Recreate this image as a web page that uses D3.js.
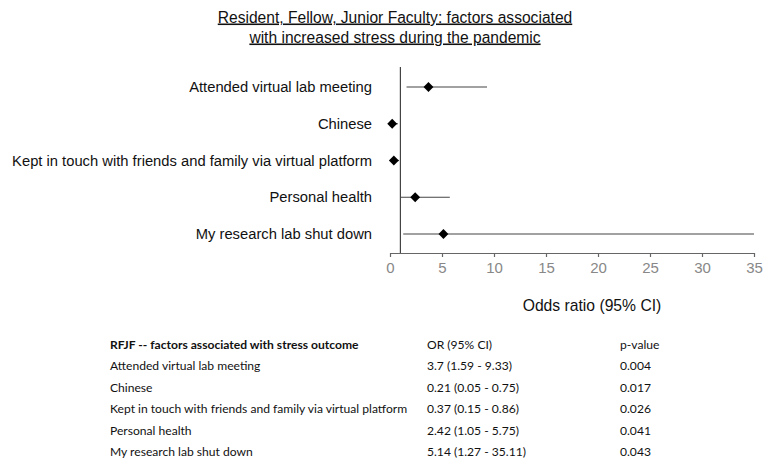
<!DOCTYPE html>
<html>
<head>
<meta charset="utf-8">
<script src="https://cdn.jsdelivr.net/npm/d3@7"></script>
<style>
  html, body { margin: 0; padding: 0; background: #fff; }
  svg { display: block; }
</style>
</head>
<body>
<svg id="chart" width="765" height="460"></svg>
<script>
// Factors associated with increased stress (logistic regression results)
const factors = [
  "Attended virtual lab meeting",
  "Chinese",
  "Kept in touch with friends and family via virtual platform",
  "Personal health",
  "My research lab shut down"
];
const oddsRatios = [3.7, 0.21, 0.37, 2.42, 5.14];
const ciLower    = [1.59, 0.05, 0.15, 1.05, 1.27];
const ciUpper    = [9.33, 0.75, 0.86, 5.75, 35.11];
const pValues    = ["0.004", "0.017", "0.026", "0.041", "0.043"];
const xTicks     = [0, 5, 10, 15, 20, 25, 30, 35];

const svg = d3.select("#chart");
const sans = "'Liberation Sans', Arial, sans-serif";
const tableFont = "Lato, 'Open Sans', sans-serif";

// Title (underlined, two lines)
const titleLines = [
  "Resident, Fellow, Junior Faculty: factors associated",
  "with increased stress during the pandemic"
];
svg.append("g").selectAll("text").data(titleLines).join("text")
  .attr("x", 395)
  .attr("y", (d, i) => 22.5 + i * 20)
  .attr("text-anchor", "middle")
  .attr("font-family", sans)
  .attr("font-size", 15.6)
  .attr("text-decoration", "underline")
  .attr("fill", "#111")
  .text(d => d);

// Forest plot
const x = d3.scaleLinear().domain([0, 35]).range([390, 754]);
const y = d3.scalePoint().domain(factors).range([87, 234]);
const axisY = 253;

const axis = svg.append("g")
  .attr("transform", `translate(0,${axisY})`)
  .call(d3.axisBottom(x).tickValues(xTicks).tickSize(4).tickSizeOuter(0).tickPadding(5));
axis.select(".domain").attr("stroke", "#666").attr("stroke-width", 1.2);
axis.selectAll(".tick line").attr("stroke", "#666").attr("stroke-width", 1.2);
axis.selectAll(".tick text")
  .attr("font-family", sans)
  .attr("font-size", 15)
  .attr("fill", "#888");

// Reference line at OR = 1
svg.append("line")
  .attr("x1", x(1)).attr("x2", x(1))
  .attr("y1", 67).attr("y2", axisY)
  .attr("stroke", "#444").attr("stroke-width", 1.2);

const rows = factors.map((f, i) => ({
  f, or: oddsRatios[i], lo: ciLower[i], hi: ciUpper[i], p: pValues[i]
}));

// Confidence intervals (clipped to the axis range)
svg.append("g").selectAll("line").data(rows).join("line")
  .attr("x1", d => x(Math.max(d.lo, 0)))
  .attr("x2", d => x(Math.min(d.hi, 35)))
  .attr("y1", d => y(d.f))
  .attr("y2", d => y(d.f))
  .attr("stroke", "#444")
  .attr("stroke-width", 1.2);

// Point estimates
const diamond = d3.symbol().type(d3.symbolDiamond2).size(62);
svg.append("g").selectAll("path").data(rows).join("path")
  .attr("transform", d => `translate(${x(d.or)},${y(d.f)})`)
  .attr("d", diamond)
  .attr("fill", "#000");

// Category labels
svg.append("g").selectAll("text").data(rows).join("text")
  .attr("x", 372)
  .attr("y", d => y(d.f))
  .attr("dy", "0.35em")
  .attr("text-anchor", "end")
  .attr("font-family", sans)
  .attr("font-size", 14.75)
  .attr("fill", "#111")
  .text(d => d.f);

// Axis title
svg.append("text")
  .attr("x", 592)
  .attr("y", 311)
  .attr("text-anchor", "middle")
  .attr("font-family", sans)
  .attr("font-size", 15.7)
  .attr("fill", "#111")
  .text("Odds ratio (95% CI)");

// Results table
const colX = [110, 427, 620];
const rowY0 = 348.5, rowStep = 21.5;
const table = svg.append("g")
  .attr("font-family", tableFont)
  .attr("font-size", 12.1)
  .attr("fill", "#111");

table.selectAll("text.head")
  .data(["RFJF -- factors associated with stress outcome", "OR (95% CI)", "p-value"])
  .join("text")
  .attr("class", "head")
  .attr("x", (d, i) => colX[i])
  .attr("y", rowY0)
  .attr("font-weight", (d, i) => i === 0 ? "bold" : "normal")
  .text(d => d);

const fmtCI = d => `${d.or} (${d.lo} - ${d.hi})`;
rows.forEach((d, i) => {
  const cells = [d.f, fmtCI(d), d.p];
  table.selectAll(null).data(cells).join("text")
    .attr("x", (c, j) => colX[j])
    .attr("y", rowY0 + (i + 1) * rowStep)
    .text(c => c);
});
</script>
</body>
</html>
